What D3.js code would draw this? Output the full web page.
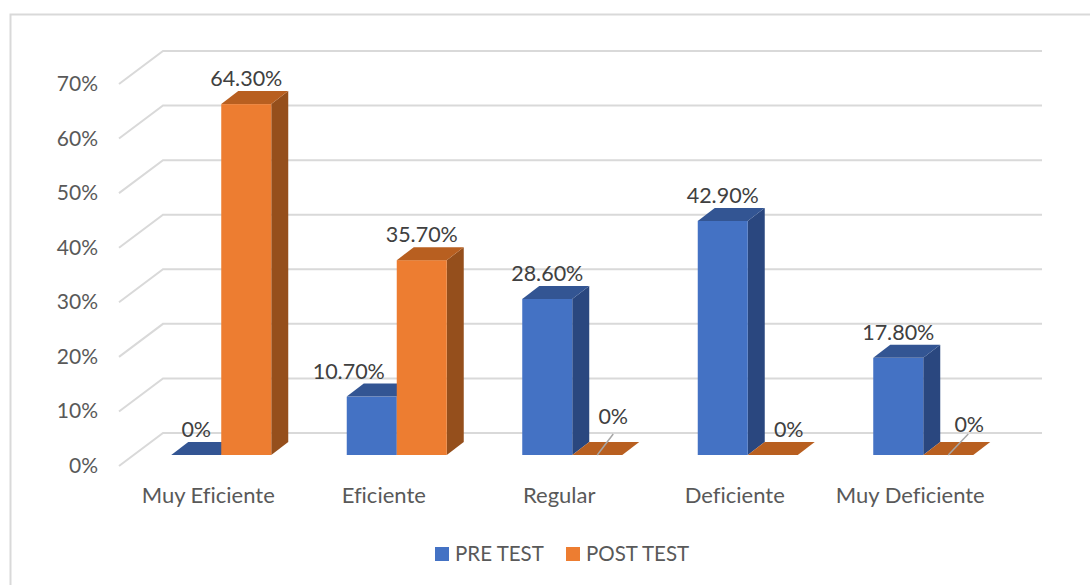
<!DOCTYPE html>
<html><head><meta charset="utf-8">
<script src="https://cdn.jsdelivr.net/npm/d3@7/dist/d3.min.js"></script>
<style>html,body{margin:0;padding:0;background:#fff}svg{display:block}text{font-family:Lato,"Open Sans",sans-serif;fill:#595959;font-variant-ligatures:none}</style>
</head><body><div id="c"></div>
<script>
const categories=["Muy Eficiente","Eficiente","Regular","Deficiente","Muy Deficiente"];
const preTest=[0,10.7,28.6,42.9,17.8];
const postTest=[64.3,35.7,0,0,0];
const preLabels=["0%","10.70%","28.60%","42.90%","17.80%"];
const postLabels=["64.30%","35.70%","0%","0%","0%"];
const yTicks=[0,10,20,30,40,50,60,70];
const seriesNames=["PRE TEST","POST TEST"];

const W=1090,H=585,dx=17,dy=-13;
const svg=d3.select("#c").append("svg").attr("width",W).attr("height",H);
svg.append("path").attr("d","M10.5 585V14.5H1090").attr("fill","none").attr("stroke","#d9d9d9").attr("stroke-width",2);

const y=d3.scaleLinear().domain([0,70]).range([455,73]);
const x=d3.scaleBand().domain(categories).range([133.5,1011]).paddingInner(0).paddingOuter(0);
const inner=d3.scaleBand().domain(seriesNames).range([0,x.bandwidth()]).paddingInner(0).paddingOuter(0.755);

const grid=svg.append("g").attr("fill","none").attr("stroke","#d9d9d9").attr("stroke-width",2);
yTicks.forEach(t=>{
  const yy=y(t);
  grid.append("path").attr("d",`M119 ${yy+11}L163 ${yy-22}H1042`);
});

const axis=d3.axisLeft(y).tickValues(yTicks).tickFormat(d=>d+"%").tickSize(0).tickPadding(0);
const axG=svg.append("g").attr("transform","translate(98,0)").call(axis);
axG.select(".domain").remove();
axG.selectAll("text").attr("y",0).attr("dy","0.36em").attr("transform","translate(0,10)").style("font-size","21px").style("font-family",'Lato,"Open Sans",sans-serif');

svg.append("g").selectAll("text").data(categories).join("text")
  .attr("x",d=>x(d)+x.bandwidth()/2-13).attr("y",503).attr("text-anchor","middle").style("font-size","22px").text(d=>d);

const colors=[{f:"#4472c4",t:"#335593",s:"#2a477f"},{f:"#ed7d31",t:"#b85f20",s:"#954f1c"}];
const barG=svg.append("g");
const series=[preTest,postTest];
categories.forEach((c,i)=>{
  series.forEach((vals,s)=>{
    const b=x(c)+inner(seriesNames[s]), w=inner.bandwidth(), v=vals[i], top=y(v), base=y(0), col=colors[s];
    const g=barG.append("g");
    if(v>0){
      g.append("path").attr("fill",col.s).attr("d",`M${b+w} ${top}l${dx} ${dy}V${base+dy}l${-dx} ${-dy}Z`);
      g.append("rect").attr("x",b).attr("y",top).attr("width",w).attr("height",base-top).attr("fill",col.f);
    }
    g.append("path").attr("fill",col.t).attr("d",`M${b} ${top}l${dx} ${dy}h${w}l${-dx} ${-dy}Z`);
  });
});

const labelNudgeX=[[0,-23,0,0,0],[0,0,16,16,21]];
const labelNudgeY=[[0,0,0,0,0],[0,0,-13,0,-5]];
[preLabels,postLabels].forEach((labs,s)=>{
  labs.forEach((t,i)=>{
    const c=categories[i], w=inner.bandwidth();
    const cx=x(c)+inner(seriesNames[s])+w/2+labelNudgeX[s][i];
    const ly=y(series[s][i])-18+labelNudgeY[s][i];
    svg.append("text").attr("x",cx).attr("y",ly).attr("text-anchor","middle").style("fill","#404040").style("font-size","21.5px").text(t);
  });
});

[2,4].forEach(i=>{
  const cx=x(categories[i])+inner(seriesNames[1])+inner.bandwidth()/2;
  const ex=i===2?16:20;
  svg.append("line").attr("x1",cx).attr("y1",y(0)).attr("x2",cx+ex).attr("y2",y(0)-21).attr("stroke","#a6a6a6").attr("stroke-width",1.5);
});

const lg=svg.append("g");
const lx=[435,566];
seriesNames.forEach((n,i)=>{
  lg.append("rect").attr("x",lx[i]).attr("y",547).attr("width",14).attr("height",14).attr("fill",colors[i].f);
  lg.append("text").attr("x",lx[i]+20).attr("y",561).style("font-size","20.5px").text(n);
});
</script></body></html>
